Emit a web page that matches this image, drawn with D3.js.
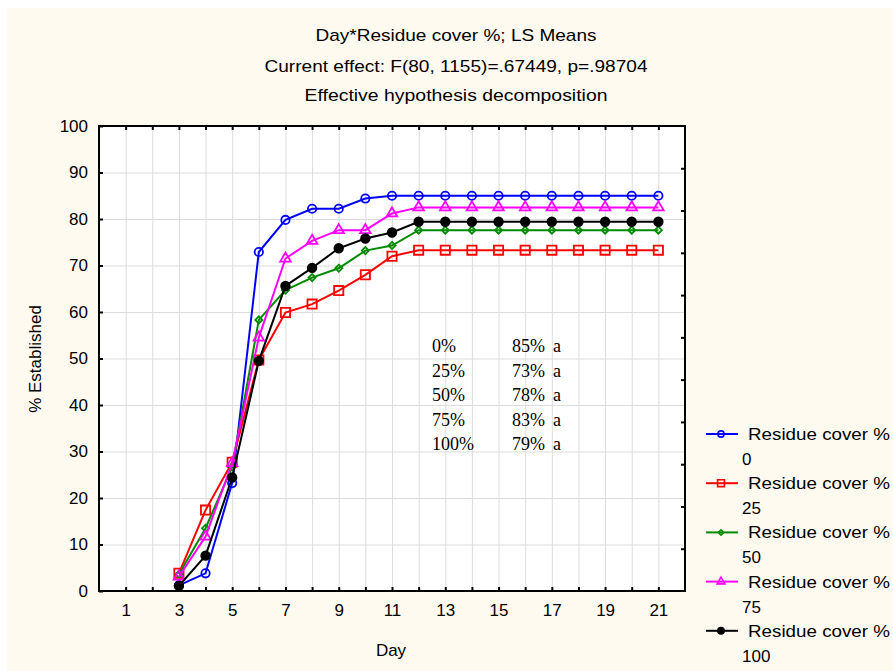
<!DOCTYPE html>
<html>
<head>
<meta charset="utf-8">
<script src="https://cdn.jsdelivr.net/npm/d3@7"></script>
<style>
  body { margin: 0; background: #ffffff; }
  svg { display: block; }
  text { font-family: "Liberation Sans", Arial, sans-serif; fill: #000; }
</style>
</head>
<body>
<div id="chart"></div>
<script>
// Chart data
const days = [3, 4, 5, 6, 7, 8, 9, 10, 11, 12, 13, 14, 15, 16, 17, 18, 19, 20, 21];
const cover0   = [1.2, 3.8, 23.2, 72.9, 79.8, 82.2, 82.2, 84.4, 85.0, 85.0, 85.0, 85.0, 85.0, 85.0, 85.0, 85.0, 85.0, 85.0, 85.0];
const cover25  = [3.8, 17.4, 27.7, 49.7, 59.9, 61.7, 64.6, 68.0, 72.0, 73.3, 73.3, 73.3, 73.3, 73.3, 73.3, 73.3, 73.3, 73.3, 73.3];
const cover50  = [3.6, 13.5, 26.7, 58.3, 64.7, 67.4, 69.4, 73.2, 74.3, 77.6, 77.6, 77.6, 77.6, 77.6, 77.6, 77.6, 77.6, 77.6, 77.6];
const cover75  = [3.1, 11.7, 27.5, 54.5, 71.5, 75.3, 77.6, 77.6, 81.2, 82.5, 82.5, 82.5, 82.5, 82.5, 82.5, 82.5, 82.5, 82.5, 82.5];
const cover100 = [1.1, 7.6, 24.4, 49.5, 65.6, 69.5, 73.7, 75.8, 77.1, 79.4, 79.4, 79.4, 79.4, 79.4, 79.4, 79.4, 79.4, 79.4, 79.4];
const seriesNames = ["0", "25", "50", "75", "100"];
const xTicks = [1, 3, 5, 7, 9, 11, 13, 15, 17, 19, 21];
const yTicks = [0, 10, 20, 30, 40, 50, 60, 70, 80, 90, 100];
const titles = ["Day*Residue cover %; LS Means",
                "Current effect: F(80, 1155)=.67449, p=.98704",
                "Effective hypothesis decomposition"];
const noteCover = ["0%", "25%", "50%", "75%", "100%"];
const noteValue = ["85%", "73%", "78%", "83%", "79%"];
const noteGroup = ["a", "a", "a", "a", "a"];

const width = 893, height = 671;
const plotLeft = 99, plotRight = 685, plotTop = 126, plotBottom = 591;

const svg = d3.select("#chart").append("svg")
    .attr("width", width)
    .attr("height", height);

// cream panel with thin white strip on top/left
svg.append("rect").attr("x", 7).attr("y", 8)
    .attr("width", width - 7).attr("height", height - 8)
    .attr("fill", "#fffaf0");

const x = d3.scaleLinear().domain([0, 22]).range([plotLeft, plotRight]);
const y = d3.scaleLinear().domain([0, 100]).range([plotBottom, plotTop]);

// plot background
svg.append("rect").attr("x", plotLeft).attr("y", plotTop)
    .attr("width", plotRight - plotLeft).attr("height", plotBottom - plotTop)
    .attr("fill", "#ffffff");

// gridlines
svg.append("g")
    .attr("transform", "translate(0," + plotBottom + ")")
    .call(d3.axisBottom(x).tickValues(d3.range(1, 22)).tickSize(-(plotBottom - plotTop)).tickFormat(""))
    .call(g => g.select(".domain").remove())
    .call(g => g.selectAll("line").attr("stroke", "#dcdcdc"));
svg.append("g")
    .attr("transform", "translate(" + plotLeft + ",0)")
    .call(d3.axisLeft(y).tickValues(d3.range(10, 100, 10)).tickSize(-(plotRight - plotLeft)).tickFormat(""))
    .call(g => g.select(".domain").remove())
    .call(g => g.selectAll("line").attr("stroke", "#dcdcdc"));

// series
const series = [
    { name: seriesNames[0], values: cover0,   color: "#0000ff", symbol: d3.symbolCircle,   size: 55, fill: "none" },
    { name: seriesNames[1], values: cover25,  color: "#ff0000", symbol: d3.symbolSquare,   size: 85, fill: "none" },
    { name: seriesNames[2], values: cover50,  color: "#008a00", symbol: d3.symbolDiamond2, size: 32, fill: "none" },
    { name: seriesNames[3], values: cover75,  color: "#ff00ff", symbol: d3.symbolTriangle, size: 48, fill: "none" },
    { name: seriesNames[4], values: cover100, color: "#000000", symbol: d3.symbolCircle,   size: 58, fill: "#000000" }
];

const line = d3.line()
    .x(d => x(d[0]))
    .y(d => y(d[1]));

series.forEach(function (s) {
    const pts = days.map((d, i) => [d, s.values[i]]);
    const g = svg.append("g");
    g.append("path")
        .datum(pts)
        .attr("fill", "none")
        .attr("stroke", s.color)
        .attr("stroke-width", 2)
        .attr("d", line);
    g.selectAll("path.mark")
        .data(pts)
        .enter().append("path")
        .attr("class", "mark")
        .attr("transform", d => "translate(" + x(d[0]) + "," + y(d[1]) + ")")
        .attr("d", d3.symbol().type(s.symbol).size(s.size))
        .attr("fill", s.fill)
        .attr("stroke", s.color)
        .attr("stroke-width", 1.8);
});

// axes (inward ticks)
svg.append("g")
    .attr("transform", "translate(0," + plotBottom + ")")
    .call(d3.axisBottom(x).tickValues(d3.range(1, 22)).tickSizeInner(-4).tickSizeOuter(0).tickPadding(13)
        .tickFormat(d => xTicks.includes(d) ? d : ""))
    .call(g => g.select(".domain").remove())
    .call(g => g.selectAll("line").attr("stroke", "#000").attr("stroke-width", 2))
    .call(g => g.selectAll("text").style("font-size", "17px").attr("font-family", null));
svg.append("g")
    .attr("transform", "translate(0," + plotTop + ")")
    .call(d3.axisTop(x).tickValues(d3.range(1, 22)).tickSizeInner(-4).tickSizeOuter(0).tickFormat(""))
    .call(g => g.select(".domain").remove())
    .call(g => g.selectAll("line").attr("stroke", "#000").attr("stroke-width", 2));
svg.append("g")
    .attr("transform", "translate(" + plotLeft + ",0)")
    .call(d3.axisLeft(y).tickValues(yTicks).tickSizeInner(-4).tickSizeOuter(0).tickPadding(11))
    .call(g => g.select(".domain").remove())
    .call(g => g.selectAll("line").attr("stroke", "#000").attr("stroke-width", 2))
    .call(g => g.selectAll("text").style("font-size", "17px").attr("font-family", null));
svg.append("g")
    .attr("transform", "translate(" + plotRight + ",0)")
    .call(d3.axisRight(y).tickValues(d3.range(1, 11).map(k => k * 100 / 11)).tickSizeInner(-4).tickSizeOuter(0).tickFormat(""))
    .call(g => g.select(".domain").remove())
    .call(g => g.selectAll("line").attr("stroke", "#000").attr("stroke-width", 2));

// frame
svg.append("rect").attr("x", plotLeft).attr("y", plotTop)
    .attr("width", plotRight - plotLeft).attr("height", plotBottom - plotTop)
    .attr("fill", "none").attr("stroke", "#000").attr("stroke-width", 2);

// titles
const titleW = [281, 383, 303];
const titleY = [41, 72, 101];
titles.forEach(function (t, i) {
    svg.append("text")
        .attr("x", 456 - titleW[i] / 2)
        .attr("y", titleY[i])
        .attr("textLength", titleW[i])
        .attr("lengthAdjust", "spacingAndGlyphs")
        .style("font-size", "17px")
        .text(t);
});

// axis labels
svg.append("text")
    .attr("text-anchor", "middle")
    .attr("x", 391).attr("y", 656)
    .style("font-size", "17px")
    .text("Day");
svg.append("text")
    .attr("text-anchor", "middle")
    .attr("transform", "translate(41,359) rotate(-90)")
    .style("font-size", "17px")
    .text("% Established");

// annotation
const serif = "'Liberation Serif', 'Times New Roman', serif";
noteCover.forEach(function (t, i) {
    const by = 352 + i * 24.5;
    svg.append("text").attr("x", 432).attr("y", by)
        .style("font-family", serif).style("font-size", "18px").text(t);
    svg.append("text").attr("x", 545).attr("y", by)
        .attr("text-anchor", "end")
        .style("font-family", serif).style("font-size", "18px").text(noteValue[i]);
    svg.append("text").attr("x", 553).attr("y", by)
        .style("font-family", serif).style("font-size", "18px").text(noteGroup[i]);
});

// legend
const legend = svg.append("g");
series.forEach(function (s, i) {
    const ly = 434 + i * 49.2;
    legend.append("line")
        .attr("x1", 706).attr("x2", 738).attr("y1", ly).attr("y2", ly)
        .attr("stroke", s.color).attr("stroke-width", 2);
    legend.append("path")
        .attr("transform", "translate(721," + ly + ")")
        .attr("d", d3.symbol().type(s.symbol).size(s.size * 0.55))
        .attr("fill", s.fill)
        .attr("stroke", s.color)
        .attr("stroke-width", 1.6);
    legend.append("text")
        .attr("x", 748).attr("y", ly + 6)
        .attr("textLength", 142)
        .attr("lengthAdjust", "spacingAndGlyphs")
        .style("font-size", "17px")
        .text("Residue cover %");
    legend.append("text")
        .attr("x", 742).attr("y", ly + 31)
        .style("font-size", "17px")
        .text(s.name);
});
</script>
</body>
</html>
